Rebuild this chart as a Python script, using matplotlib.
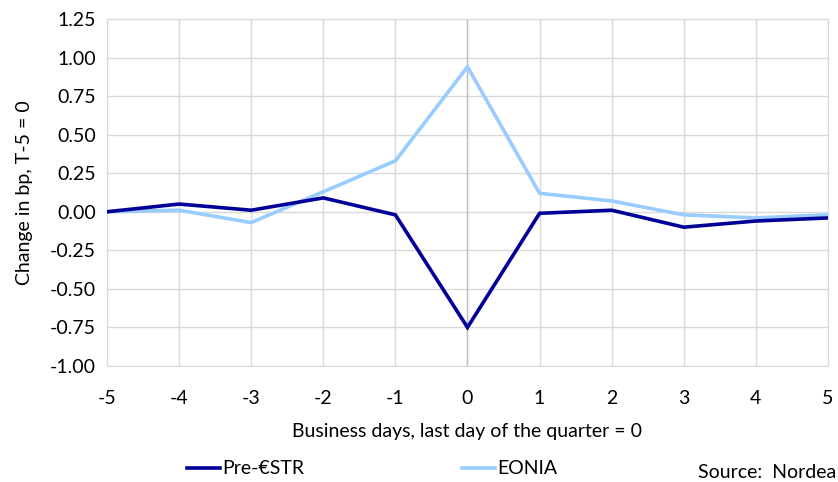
import matplotlib.pyplot as plt
from matplotlib.lines import Line2D

days = [-5, -4, -3, -2, -1, 0, 1, 2, 3, 4, 5]
pre_estr = [0.00, 0.05, 0.01, 0.09, -0.02, -0.75, -0.01, 0.01, -0.10, -0.06, -0.04]
eonia = [0.00, 0.01, -0.07, 0.13, 0.33, 0.94, 0.12, 0.07, -0.02, -0.04, -0.02]
y_ticks = [-1.00, -0.75, -0.50, -0.25, 0.00, 0.25, 0.50, 0.75, 1.00, 1.25]

COLOR_DARK, COLOR_LIGHT, COLOR_GRID = "#000099", "#99CCFF", "#D9D9D9"

plt.rcParams["font.family"] = ["Lato", "DejaVu Sans"]
plt.rcParams["font.size"] = 14
plt.rcParams["axes.unicode_minus"] = False

fig = plt.figure(figsize=(8.38, 4.82), dpi=100)
ax = fig.add_axes([0.1277, 0.2407, 0.8603, 0.7199])

ax.plot(days, eonia, color=COLOR_LIGHT, lw=2.6, solid_joinstyle="miter", zorder=3)
ax.plot(days, pre_estr, color=COLOR_DARK, lw=2.6, solid_joinstyle="miter", zorder=4)

ax.set_xlim(-5, 5)
ax.set_ylim(-1.0, 1.25)
ax.set_xticks(days)
ax.set_yticks(y_ticks)
ax.set_yticklabels([f"{v:.2f}" for v in y_ticks])
ax.grid(True, color=COLOR_GRID, lw=1)
ax.axvline(0, color="#BFBFBF", lw=1, zorder=2)
for s in ax.spines.values():
    s.set_color(COLOR_GRID)
ax.tick_params(length=0, pad=8, colors="#000000")
ax.tick_params(axis="x", pad=17)

ax.set_xlabel("Business days, last day of the quarter = 0", labelpad=12)
ax.set_ylabel("Change in bp, T-5 = 0", labelpad=12)

handles = [Line2D([0], [0], color=COLOR_DARK, lw=2.6),
           Line2D([0], [0], color=COLOR_LIGHT, lw=2.6)]
fig.legend(handles, ["Pre-€STR", "EONIA"], loc="center", bbox_to_anchor=(0.444, 0.027),
           ncol=2, frameon=False, handlelength=1.7, handletextpad=0.1, columnspacing=8.1)
fig.text(0.998, 0.02, "Source:  Nordea", ha="right", va="center")

fig.savefig("out.png", dpi=100)
